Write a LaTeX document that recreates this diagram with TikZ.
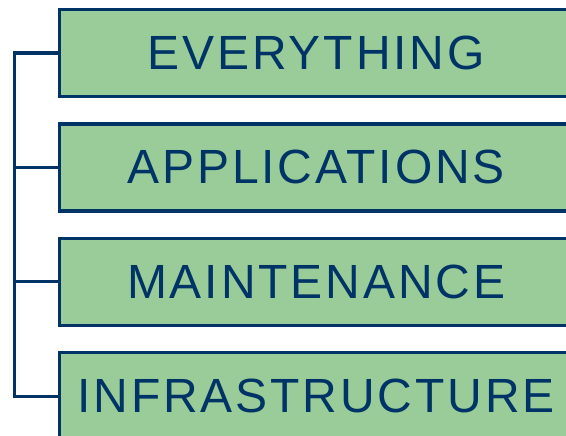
\documentclass[tikz,border=0pt]{standalone}
\usepackage{fontspec}
\setmainfont{Liberation Sans}
\newfontfamily\tierfont[LetterSpace=6]{Liberation Sans}
\usepackage{tikz}
\usetikzlibrary{calc}
\definecolor{navy}{RGB}{0,51,102}
\definecolor{leaf}{RGB}{154,204,153}
\tikzset{
  tier/.style={draw=navy,fill=leaf,line width=3.3pt,anchor=north west,
    minimum width=514pt,minimum height=87pt,text=navy,
    font=\tierfont\fontsize{48}{50}\selectfont},
  trunk/.style={draw=navy,line width=3.3pt}
}
\begin{document}
\begin{tikzpicture}[x=1pt,y=1pt]
\useasboundingbox (0,0) rectangle (566,-436);
\clip (0,0) rectangle (566,-436);
% boxes
\node[tier] (everything) at (57.5,-8) {EVERYTHING};
\node[tier] (applications) at (57.5,-122.3) {APPLICATIONS};
\node[tier] (maintenance) at (57.5,-236.6) {MAINTENANCE};
\node[tier] (infrastructure) at (57.5,-351) {INFRASTRUCTURE};
% bracket on the left
\coordinate (spine) at (14.3,0);
\draw[trunk] (everything.west) -- (everything.west -| spine)
  -- (infrastructure.west -| spine) -- (infrastructure.west);
\draw[trunk] (applications.west -| spine) -- (applications.west);
\draw[trunk] (maintenance.west -| spine) -- (maintenance.west);
\end{tikzpicture}
\end{document}
